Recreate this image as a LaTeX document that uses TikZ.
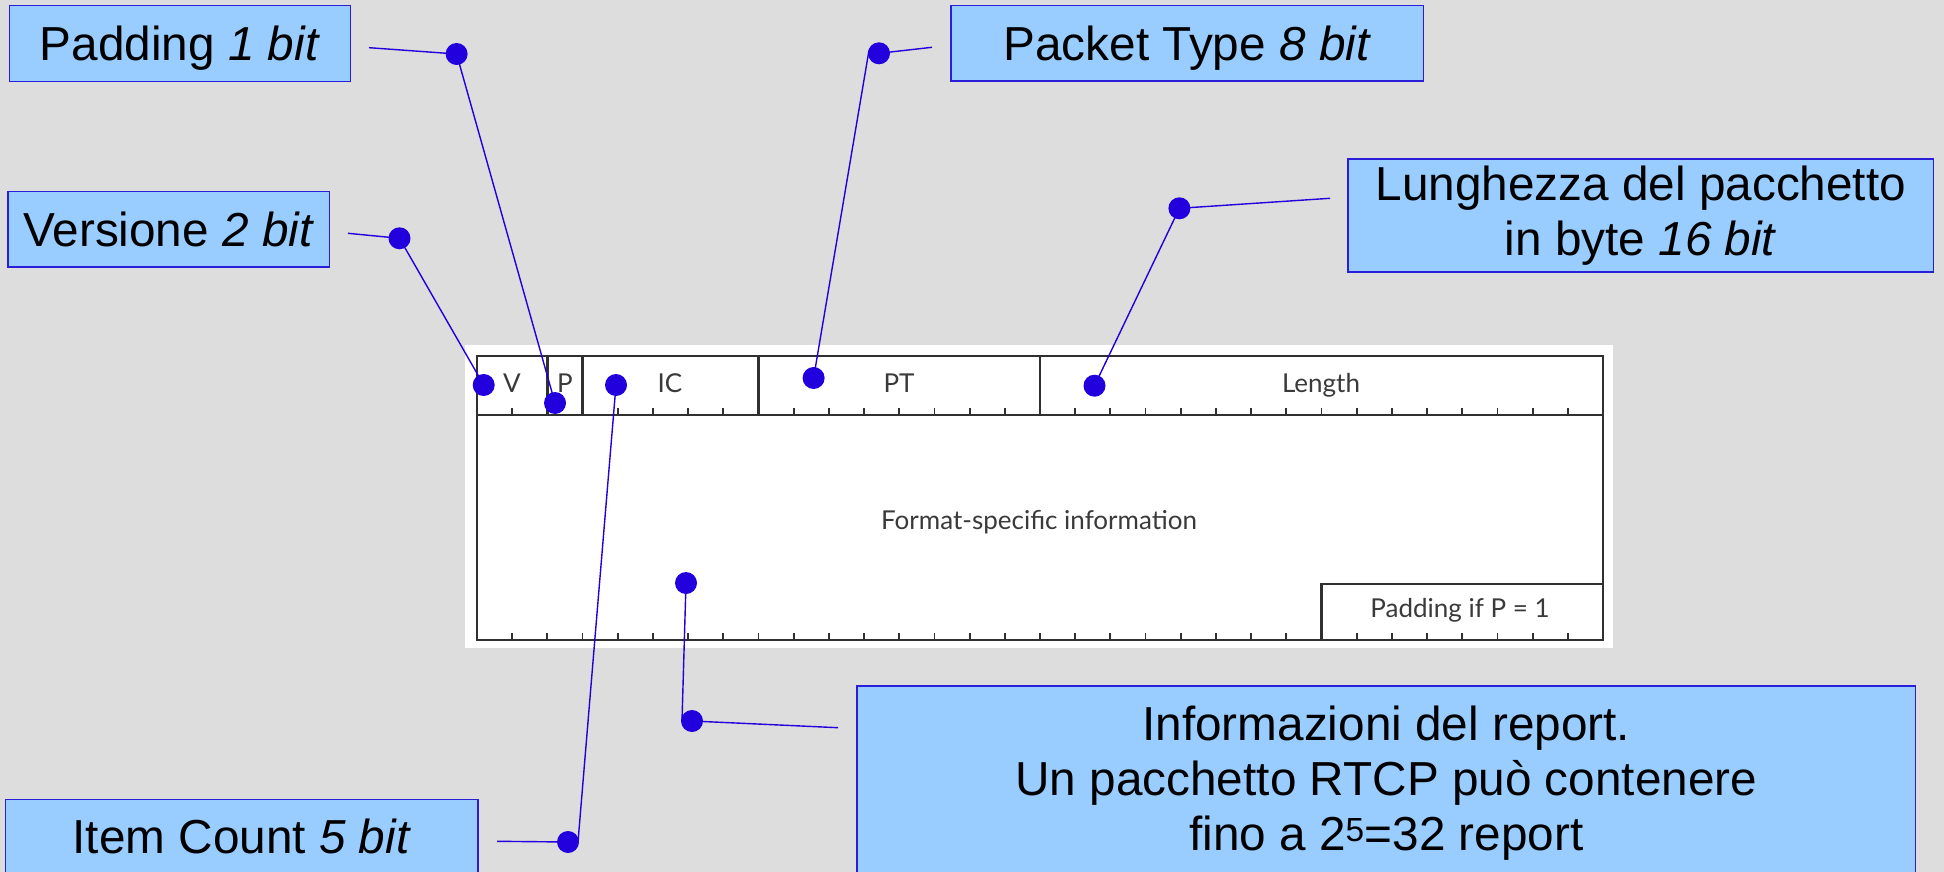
\documentclass[tikz,border=0pt]{standalone}
\usepackage{fontspec}
\setmainfont{Liberation Sans}
\newfontfamily\pktfont{Lato}
\definecolor{bg}{HTML}{DDDDDD}
\definecolor{boxfill}{HTML}{99CCFF}
\definecolor{boxline}{HTML}{2A1ED8}
\definecolor{dotc}{HTML}{2200DD}
\definecolor{framec}{HTML}{303030}
\definecolor{pkttext}{HTML}{3A3A3A}
\begin{document}
\begin{tikzpicture}[x=1pt,y=-1pt,
  labelbox/.style={draw=boxline, line width=1.5pt, fill=boxfill,
    font=\fontsize{47.7}{55}\selectfont, align=center, inner sep=0pt},
  oneline/.style={text height=34pt, text depth=0pt},
  dotnode/.style={circle, fill=dotc, draw=none, minimum size=22pt, inner sep=0pt},
  leader/.style={draw=dotc, line width=1.4pt},
  frameline/.style={draw=framec, line width=2.6pt},
  tickline/.style={draw=framec, line width=1.8pt},
  pkt/.style={font=\pktfont\fontsize{26}{30}\selectfont, text=pkttext, inner sep=0pt}]
\useasboundingbox (0,0) rectangle (1944,872);
\clip (0,0) rectangle (1944,872);
\fill[bg] (0,0) rectangle (1944,872);

% ---------------- packet format figure ----------------
\fill[white] (465,345) rectangle (1613,648);
\def\bw{35.1875}
\path[frameline] (477,356) rectangle (1603,640);
\path[frameline] (477,415) -- (1603,415);
\foreach \k in {2,3,8,16} {
  \path[frameline] (477+\k*\bw,356) -- (477+\k*\bw,415);
}
\path[frameline] (477+24*\bw,640) -- (477+24*\bw,584) -- (1603,584);
\foreach \k in {1,...,31} {
  \path[tickline] (477+\k*\bw,415) -- (477+\k*\bw,408);
  \path[tickline] (477+\k*\bw,640) -- (477+\k*\bw,633);
}
\node[pkt] (tV)  at (512,383) {V};
\node[pkt] (tP)  at (565,383) {P};
\node[pkt] (tIC) at (670,383) {IC};
\node[pkt] (tPT) at (899,383) {PT};
\node[pkt] (tLen) at (1321,385) {Length};
\node[pkt] (tFmt) at (1039,522) {Format-specific information};
\node[pkt] (tPad) at (1460,610) {Padding if P = 1};

% ---------------- label boxes ----------------
\node[labelbox, oneline, minimum width=341pt, minimum height=75.6pt] (padbox) at (180,43.5) {Padding \textit{1 bit}};
\node[labelbox, oneline, minimum width=321.5pt, minimum height=75.7pt] (verbox) at (168.75,229.15) {Versione \textit{2 bit}};
\node[labelbox, oneline, minimum width=472.6pt, minimum height=75.7pt] (ptbox) at (1187.3,43.15) {Packet Type \textit{8 bit}};
\node[labelbox, minimum width=585.7pt, minimum height=113.3pt] (lenbox) at (1640.85,215.5) {Lunghezza del pacchetto\\in byte \textit{16 bit}};
\node[labelbox, oneline, minimum width=472.3pt, minimum height=75pt] (icbox) at (241.85,836.8) {Item Count \textit{5 bit}};
\node[labelbox, minimum width=1058.6pt, minimum height=194pt] (infobox) at (1386.3,783) {Informazioni del report.\\Un pacchetto RTCP può contenere\\fino a 2\textsuperscript{5}=32 report};

% ---------------- leader end points ----------------
\coordinate (padend)  at (369,47.7);
\coordinate (verend)  at (348,233.3);
\coordinate (ptend)   at (932,47.3);
\coordinate (lenend)  at (1330,198.3);
\coordinate (icend)   at (497,841.3);
\coordinate (infoend) at (838,727.7);

% ---------------- dots (positions) ----------------
\coordinate (cV)    at (483.7,385);
\coordinate (cVl)   at (399.5,238.3);
\coordinate (cP)    at (555,403);
\coordinate (cPl)   at (456.6,54);
\coordinate (cIC)   at (616,385);
\coordinate (cICl)  at (568,842);
\coordinate (cPT)   at (813.6,378);
\coordinate (cPTl)  at (879,53.3);
\coordinate (cLen)  at (1094.5,385.7);
\coordinate (cLenl) at (1179.4,208.3);
\coordinate (cF)    at (686,583);
\coordinate (cFl)   at (692,721);

% ---------------- leaders ----------------
\path[leader] (cVl) -- (cV);
\path[leader] (cVl) -- (verend);
\path[leader] (cPl) -- (cP);
\path[leader] (cPl) -- (padend);
\path[leader] (cIC) -- ([xshift=10pt]cICl);
\path[leader] (cICl) -- (icend);
\path[leader] ([xshift=-10pt,yshift=3pt]cPTl) -- (cPT);
\path[leader] (cPTl) -- (ptend);
\path[leader] (cLenl) -- (cLen);
\path[leader] (cLenl) -- (lenend);
\path[leader] (cF) -- ([xshift=-10pt]cFl);
\path[leader] (cFl) -- (infoend);

\node[dotnode] (dV)    at (cV) {};
\node[dotnode] (dVl)   at (cVl) {};
\node[dotnode] (dP)    at (cP) {};
\node[dotnode] (dPl)   at (cPl) {};
\node[dotnode] (dIC)   at (cIC) {};
\node[dotnode] (dICl)  at (cICl) {};
\node[dotnode] (dPT)   at (cPT) {};
\node[dotnode] (dPTl)  at (cPTl) {};
\node[dotnode] (dLen)  at (cLen) {};
\node[dotnode] (dLenl) at (cLenl) {};
\node[dotnode] (dF)    at (cF) {};
\node[dotnode] (dFl)   at (cFl) {};
\end{tikzpicture}
\end{document}
